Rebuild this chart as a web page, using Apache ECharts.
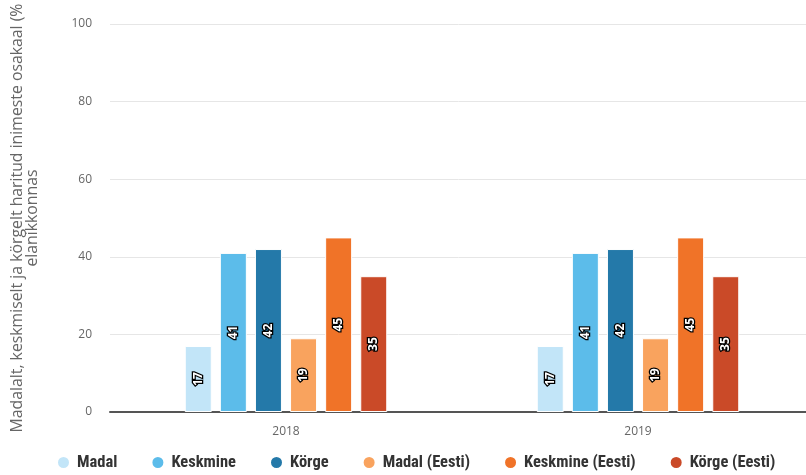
<!DOCTYPE html>
<html><head><meta charset="utf-8">
<script src="https://cdn.jsdelivr.net/npm/echarts@6/dist/echarts.min.js"></script>
<style>html,body{margin:0;padding:0;background:#fff}#c{width:806px;height:475px}</style>
</head><body><div id="c"></div>
<script>
const categories = ['2018', '2019'];
const seriesNames = ['Madal', 'Keskmine', 'Körge', 'Madal (Eesti)', 'Keskmine (Eesti)', 'Körge (Eesti)'];
const madal = [17, 17];
const keskmine = [41, 41];
const korge = [42, 42];
const madalEesti = [19, 19];
const keskmineEesti = [45, 45];
const korgeEesti = [35, 35];
const yTicks = [0, 20, 40, 60, 80, 100];
const colors = ['#c2e5f8', '#5cbcea', '#2479a9', '#f9a35e', '#f07328', '#ca4a28'];
const values = [madal, keskmine, korge, madalEesti, keskmineEesti, korgeEesti];

const chart = echarts.init(document.getElementById('c'));
chart.setOption({
  animation: false,
  color: colors,
  grid: { left: 110, right: -8, top: 24, bottom: 63, containLabel: false, outerBoundsMode: 'none' },
  legend: {
    bottom: -1, left: 51, icon: 'circle', itemWidth: 13, itemHeight: 13, itemGap: 33,
    textStyle: { fontFamily: '"Roboto Condensed", Roboto, sans-serif', fontWeight: 'bold', fontSize: 16.5, color: '#333', padding: [0, 0, 0, 2] },
    data: seriesNames
  },
  xAxis: {
    type: 'category', data: categories,
    axisTick: { show: false },
    axisLine: { lineStyle: { color: '#555', width: 2 } },
    axisLabel: { color: '#666', fontSize: 12, margin: 14, fontFamily: '"Open Sans", sans-serif' }
  },
  yAxis: {
    type: 'value', min: yTicks[0], max: yTicks[yTicks.length - 1], interval: 20,
    name: 'Madalalt, keskmiselt ja körgelt haritud inimeste osakaal (%\nelanikkonnas',
    nameLocation: 'middle', nameGap: 70, nameRotate: 90,
    nameTextStyle: { color: '#666', fontSize: 15.8, lineHeight: 15, fontFamily: '"Open Sans", sans-serif' },
    axisLabel: { color: '#666', fontSize: 12, margin: 18, fontFamily: '"Open Sans", sans-serif' },
    splitLine: { lineStyle: { color: '#e6e6e6', width: 1 } },
    axisLine: { show: false }, axisTick: { show: false }
  },
  series: seriesNames.map((n, i) => ({
    name: n, type: 'bar', data: values[i],
    barWidth: 27, barGap: '30%',
    itemStyle: { color: colors[i], borderColor: '#fff', borderWidth: 1 },
    label: {
      show: true, position: 'inside', rotate: 90,
      color: '#fff', fontWeight: 'bold', fontSize: 12,
      textBorderColor: '#000', textBorderWidth: 2.5,
      fontFamily: '"Open Sans", sans-serif'
    }
  }))
});
</script></body></html>
